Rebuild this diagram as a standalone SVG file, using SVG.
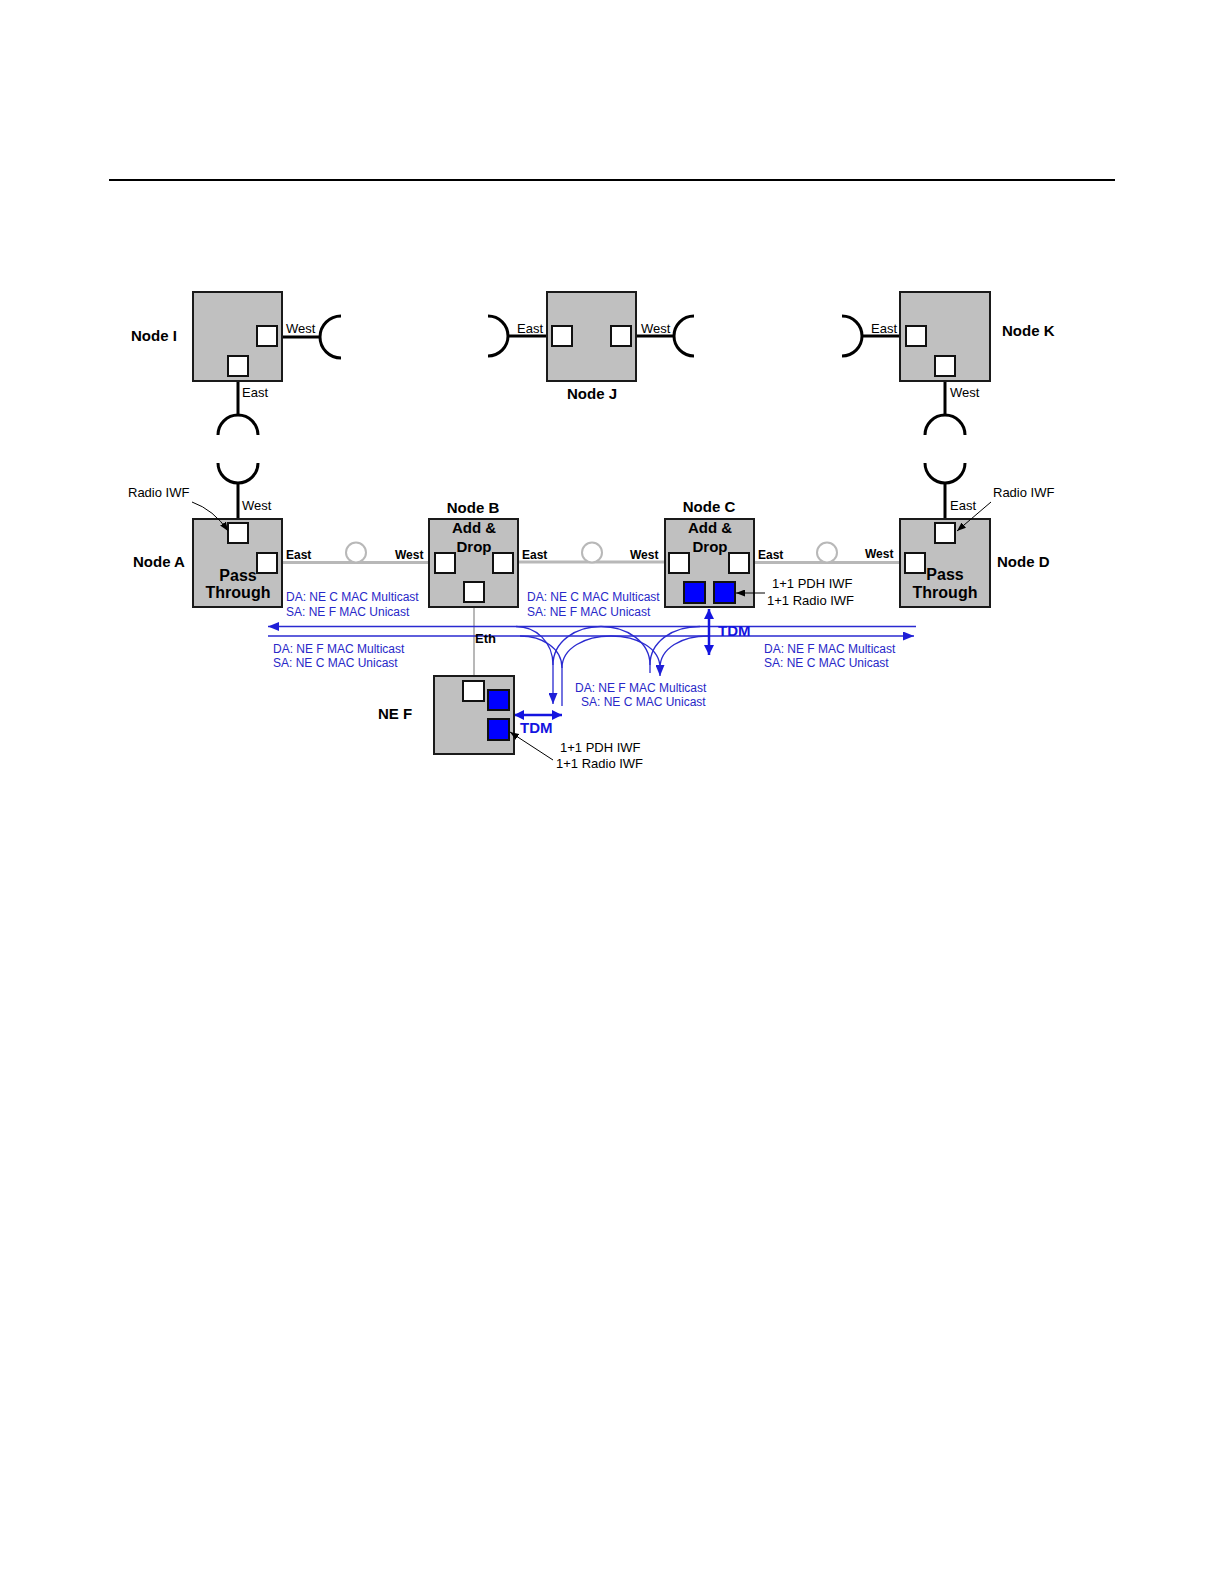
<svg xmlns="http://www.w3.org/2000/svg" width="1224" height="1584" viewBox="0 0 1224 1584">
<style>
.box{fill:#c0c0c0;stroke:#1a1a1a;stroke-width:2}
.port{fill:#ffffff;stroke:#111;stroke-width:2}
.bport{fill:#0000ff;stroke:#111;stroke-width:2}
.t{font-family:"Liberation Sans",Arial,sans-serif;fill:#000}
.nl{font-size:15px;font-weight:bold}
.pt{font-size:16px;font-weight:bold}
.sl{font-size:13px}
.rl{font-size:12px;font-weight:bold}
.bl{font-family:"Liberation Sans",Arial,sans-serif;font-size:12px;fill:#2828c8}
.tdm{font-family:"Liberation Sans",Arial,sans-serif;font-size:15px;font-weight:bold;fill:#1414e0}
.rad{fill:none;stroke:#000;stroke-width:3}
.ring{fill:none;stroke:#b8b8b8;stroke-width:3}
.bln{fill:none;stroke:#2a2ad0;stroke-width:1.3}
.co{fill:none;stroke:#000;stroke-width:1}
</style>
<defs>
<marker id="ab" viewBox="0 0 10 10" refX="10" refY="5" markerWidth="11" markerHeight="9" markerUnits="userSpaceOnUse" orient="auto-start-reverse" preserveAspectRatio="none"><path d="M0,0 L10,5 L0,10 z" fill="#1f1fd8"/></marker>
<marker id="at" viewBox="0 0 10 10" refX="10" refY="5" markerWidth="10" markerHeight="10" markerUnits="userSpaceOnUse" orient="auto-start-reverse"><path d="M0,0 L10,5 L0,10 z" fill="#1414e0"/></marker>
<marker id="ak" viewBox="0 0 10 10" refX="10" refY="5" markerWidth="9" markerHeight="7" markerUnits="userSpaceOnUse" orient="auto" preserveAspectRatio="none"><path d="M0,0 L10,5 L0,10 z" fill="#000"/></marker>
</defs>
<rect width="1224" height="1584" fill="#fff"/>
<line x1="109" y1="180" x2="1115" y2="180" stroke="#000" stroke-width="2"/>

<g id="connectors">
<line class="rad" x1="282" y1="337" x2="321" y2="337"/>
<path class="rad" d="M341,316 A21,21 0 0 0 341,358"/>
<path class="rad" d="M488,316 A20,20 0 0 1 488,356"/>
<line class="rad" x1="508" y1="336" x2="547" y2="336"/>
<line class="rad" x1="636" y1="336" x2="674" y2="336"/>
<path class="rad" d="M694,316 A20,20 0 0 0 694,356"/>
<path class="rad" d="M842,316 A20,20 0 0 1 842,356"/>
<line class="rad" x1="862" y1="336" x2="900" y2="336"/>
<line class="rad" x1="238" y1="381" x2="238" y2="415"/>
<path class="rad" d="M218,435 A20,20 0 0 1 258,435"/>
<path class="rad" d="M218,463 A20,20 0 0 0 258,463"/>
<line class="rad" x1="238" y1="483" x2="238" y2="519"/>
<line class="rad" x1="945" y1="381" x2="945" y2="415"/>
<path class="rad" d="M925,435 A20,20 0 0 1 965,435"/>
<path class="rad" d="M925,463 A20,20 0 0 0 965,463"/>
<line class="rad" x1="945" y1="483" x2="945" y2="519"/>
<line class="ring" x1="282" y1="562.5" x2="429" y2="562.5"/>
<line class="ring" x1="518" y1="562" x2="665" y2="562"/>
<line class="ring" x1="754" y1="562.5" x2="900" y2="562.5"/>
<circle cx="356" cy="552.5" r="10" fill="#fff" stroke="#b8b8b8" stroke-width="2"/>
<circle cx="592" cy="552.5" r="10" fill="#fff" stroke="#b8b8b8" stroke-width="2"/>
<circle cx="827" cy="552.5" r="10" fill="#fff" stroke="#b8b8b8" stroke-width="2"/>
<line x1="474" y1="607" x2="474" y2="676" stroke="#b8b8b8" stroke-width="2"/>
<line class="bln" x1="916" y1="626.5" x2="268" y2="626.5" marker-end="url(#ab)"/>
<line class="bln" x1="268" y1="636" x2="914" y2="636" marker-end="url(#ab)"/>
<path class="bln" d="M516,626.5 C536,626.5 553,642 553,665 L553,704" marker-end="url(#ab)"/>
<path class="bln" d="M553,665 C553,642 575,626.5 601,626.5 C627,626.5 650,642 650,665 L650,673"/>
<path class="bln" d="M650,665 C650,642 672,626.5 700,626.5"/>
<path class="bln" d="M520,636 C542,636 562,648 562,668 L562,706"/>
<path class="bln" d="M562,668 C562,648 585,636 611,636 C637,636 660,648 660,668 L660,676" marker-end="url(#ab)"/>
<path class="bln" d="M660,668 C660,648 682,636 708,636"/>
<line x1="709" y1="609" x2="709" y2="655" stroke="#1414e0" stroke-width="2.5" marker-start="url(#at)" marker-end="url(#at)"/>
<line x1="514" y1="715" x2="562" y2="715" stroke="#1414e0" stroke-width="2.5" marker-start="url(#at)" marker-end="url(#at)"/>
</g>

<g id="nodeI">
<rect class="box" x="193" y="292" width="89" height="89"/>
<rect class="port" x="257" y="326" width="20" height="20"/>
<rect class="port" x="228" y="356" width="20" height="20"/>
<text class="t nl" x="131" y="341">Node I</text>
<text class="t sl" x="286" y="333">West</text>
<text class="t sl" x="242" y="397">East</text>
</g>

<g id="nodeJ">
<rect class="box" x="547" y="292" width="89" height="89"/>
<rect class="port" x="552" y="326" width="20" height="20"/>
<rect class="port" x="611" y="326" width="20" height="20"/>
<text class="t sl" x="517" y="333">East</text>
<text class="t sl" x="641" y="333">West</text>
<text class="t nl" x="592" y="399" text-anchor="middle">Node J</text>
</g>

<g id="nodeK">
<rect class="box" x="900" y="292" width="90" height="89"/>
<rect class="port" x="906" y="326" width="20" height="20"/>
<rect class="port" x="935" y="356" width="20" height="20"/>
<text class="t sl" x="871" y="333">East</text>
<text class="t nl" x="1002" y="336">Node K</text>
<text class="t sl" x="950" y="397">West</text>
</g>

<g id="nodeA">
<rect class="box" x="193" y="519" width="89" height="88"/>
<rect class="port" x="228" y="523" width="20" height="20"/>
<rect class="port" x="257" y="553" width="20" height="20"/>
<text class="t pt" x="238" y="581" text-anchor="middle">Pass</text>
<text class="t pt" x="238" y="598" text-anchor="middle">Through</text>
<text class="t nl" x="133" y="567">Node A</text>
<text class="t sl" x="242" y="510">West</text>
<text class="t sl" x="128" y="497">Radio IWF</text>
<text class="t rl" x="286" y="559">East</text>
</g>

<g id="nodeB">
<rect class="box" x="429" y="519" width="89" height="88"/>
<rect class="port" x="435" y="553" width="20" height="20"/>
<rect class="port" x="493" y="553" width="20" height="20"/>
<rect class="port" x="464" y="582" width="20" height="20"/>
<text class="t nl" x="473" y="513" text-anchor="middle">Node B</text>
<text class="t nl" x="474" y="533" text-anchor="middle">Add &amp;</text>
<text class="t nl" x="474" y="552" text-anchor="middle">Drop</text>
<text class="t rl" x="395" y="559">West</text>
<text class="t rl" x="522" y="559">East</text>
<text class="t" x="475" y="643" font-size="13" font-weight="bold">Eth</text>
</g>

<g id="nodeC">
<rect class="box" x="665" y="519" width="89" height="88"/>
<rect class="port" x="669" y="553" width="20" height="20"/>
<rect class="port" x="729" y="553" width="20" height="20"/>
<rect class="bport" x="684" y="582" width="21" height="21"/>
<rect class="bport" x="714" y="582" width="21" height="21"/>
<text class="t nl" x="709" y="512" text-anchor="middle">Node C</text>
<text class="t nl" x="710" y="533" text-anchor="middle">Add &amp;</text>
<text class="t nl" x="710" y="552" text-anchor="middle">Drop</text>
<text class="t rl" x="630" y="559">West</text>
<text class="t rl" x="758" y="559">East</text>
<text class="t sl" x="772" y="588">1+1 PDH IWF</text>
<text class="t sl" x="767" y="605">1+1 Radio IWF</text>
<text class="tdm" x="718" y="636">TDM</text>
</g>

<g id="nodeD">
<rect class="box" x="900" y="519" width="90" height="88"/>
<rect class="port" x="935" y="523" width="20" height="20"/>
<rect class="port" x="905" y="553" width="20" height="20"/>
<text class="t pt" x="945" y="580" text-anchor="middle">Pass</text>
<text class="t pt" x="945" y="598" text-anchor="middle">Through</text>
<text class="t nl" x="997" y="567">Node D</text>
<text class="t sl" x="950" y="510">East</text>
<text class="t sl" x="993" y="497">Radio IWF</text>
<text class="t rl" x="865" y="558">West</text>
</g>

<g id="neF">
<rect class="box" x="434" y="676" width="80" height="78"/>
<rect class="port" x="463" y="681" width="21" height="20"/>
<rect class="bport" x="488" y="690" width="21" height="20"/>
<rect class="bport" x="488" y="719" width="21" height="21"/>
<text class="t nl" x="378" y="719">NE F</text>
<text class="tdm" x="520" y="733">TDM</text>
<text class="t sl" x="560" y="752">1+1 PDH IWF</text>
<text class="t sl" x="556" y="768">1+1 Radio IWF</text>
</g>

<g id="callouts">
<path class="co" d="M192,502 Q214,510 228,531" marker-end="url(#ak)"/>
<line class="co" x1="991" y1="502" x2="957" y2="531" marker-end="url(#ak)"/>
<line class="co" x1="765" y1="593" x2="736" y2="593" marker-end="url(#ak)"/>
<line class="co" x1="553" y1="760" x2="510" y2="732" marker-end="url(#ak)"/>
</g>

<g id="labels">
<text class="bl" x="286" y="601">DA: NE C MAC Multicast</text>
<text class="bl" x="286" y="616">SA: NE F MAC Unicast</text>
<text class="bl" x="527" y="601">DA: NE C MAC Multicast</text>
<text class="bl" x="527" y="616">SA: NE F MAC Unicast</text>
<text class="bl" x="273" y="653">DA: NE F MAC Multicast</text>
<text class="bl" x="273" y="667">SA: NE C MAC Unicast</text>
<text class="bl" x="575" y="692">DA: NE F MAC Multicast</text>
<text class="bl" x="581" y="706">SA: NE C MAC Unicast</text>
<text class="bl" x="764" y="653">DA: NE F MAC Multicast</text>
<text class="bl" x="764" y="667">SA: NE C MAC Unicast</text>
</g>
</svg>
